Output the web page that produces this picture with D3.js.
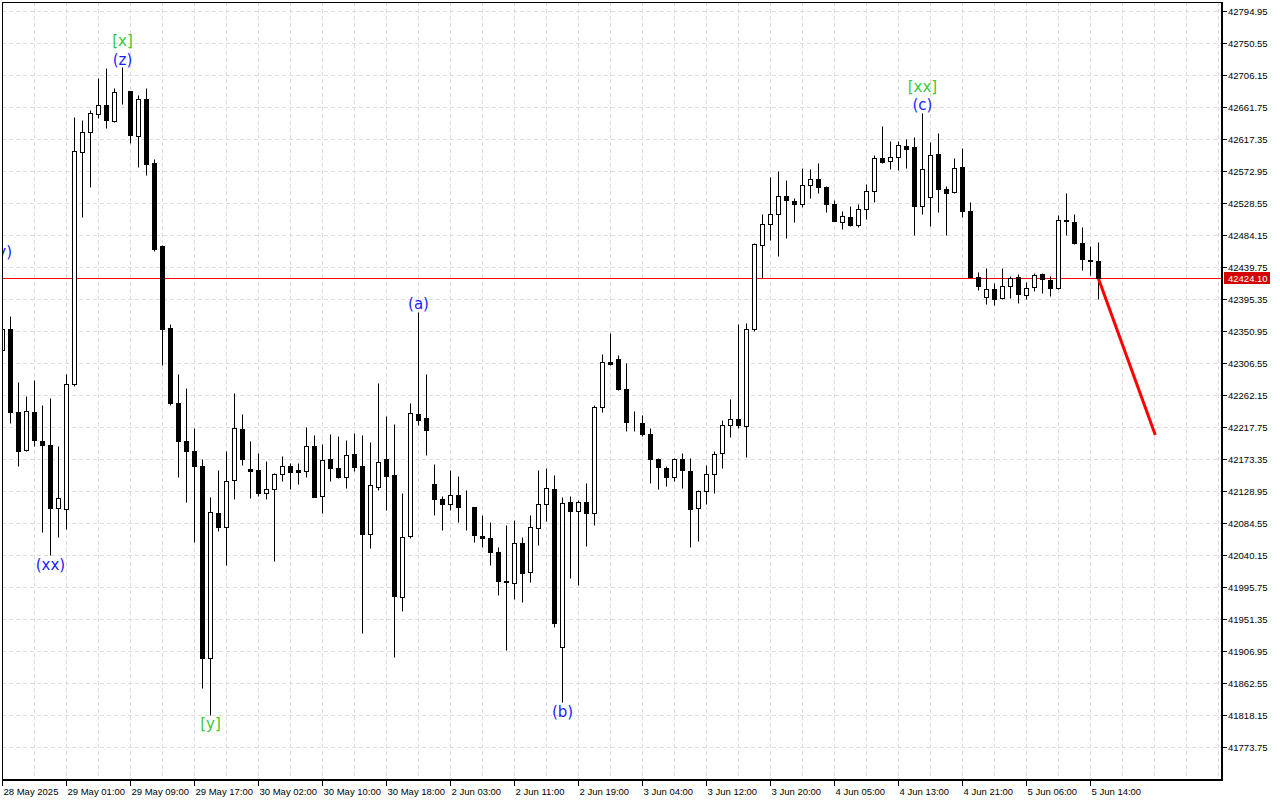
<!DOCTYPE html>
<html><head><meta charset="utf-8">
<script src="https://cdn.jsdelivr.net/npm/d3@7"></script>
<style>html,body{margin:0;padding:0;background:#fff;}svg{display:block;}</style>
</head><body>
<script>
const openP = [42323.9,42354.3,42237.9,42185.8,42237.9,42199.0,42192.1,42105.2,42103.3,42277.4,
42600.0,42626.4,42652.7,42665.2,42642.3,42684.6,42683.3,42622.2,42673.5,42583.4,
42468.2,42354.8,42250.4,42198.6,42185.1,42163.9,41897.5,42098.7,42079.3,42144.5,
42215.3,42158.8,42157.4,42126.5,42132.4,42152.8,42163.9,42157.4,42157.0,42191.7,
42122.3,42172.7,42160.2,42148.7,42180.6,42163.9,42069.6,42134.8,42172.7,42151.8,
41981.6,42066.2,42235.1,42230.9,42138.0,42118.5,42111.2,42123.7,42107.0,42107.0,
42067.2,42064.4,42044.6,42003.4,42001.6,42057.1,42016.3,42077.9,42111.2,42132.0,
41912.2,42113.0,42100.9,42114.0,42098.7,42245.8,42308.2,42312.4,42270.8,42225.0,
42223.6,42208.3,42173.6,42161.1,42148.7,42173.6,42157.0,42105.6,42129.2,42152.8,
42182.0,42220.8,42229.1,42218.9,42354.0,42470.6,42499.7,42513.6,42538.5,42531.6,
42527.4,42553.8,42561.2,42551.0,42527.4,42502.5,42509.8,42497.7,42520.5,42545.5,
42590.7,42587.1,42592.7,42608.3,42605.6,42524.1,42537.2,42597.2,42547.3,42544.1,
42578.8,42517.7,42426.2,42398.4,42409.5,42397.0,42413.7,42426.2,42401.2,42412.3,
42430.3,42422.0,42410.9,42504.3,42502.5,42473.3,42449.2,42448.4];
const highP = [42369.7,42371.1,42279.9,42260.1,42282.3,42247.6,42257.6,42190.7,42291.1,42647.2,
42643.6,42657.7,42701.3,42715.4,42688.8,42717.2,42684.0,42678.3,42688.8,42589.6,
42469.6,42360.0,42290.6,42271.2,42215.7,42173.6,42121.3,42157.4,42185.1,42265.6,
42235.1,42199.0,42181.0,42170.3,42154.6,42178.2,42167.5,42168.1,42217.1,42207.3,
42193.5,42208.7,42204.6,42200.4,42210.1,42206.4,42196.7,42279.1,42233.7,42222.6,
42126.5,42250.4,42377.6,42290.6,42167.1,42121.7,42157.4,42149.1,42131.0,42107.4,
42096.3,42086.2,42050.6,42082.1,42089.4,42064.8,42095.9,42157.4,42160.2,42151.8,
42120.9,42122.7,42115.8,42139.4,42247.6,42319.7,42348.5,42318.3,42305.9,42240.6,
42234.7,42215.7,42174.5,42164.3,42175.4,42182.0,42175.4,42130.6,42165.3,42183.8,
42226.8,42256.9,42360.0,42362.3,42473.7,42512.6,42565.3,42572.3,42559.8,42535.8,
42577.4,42576.4,42583.4,42552.0,42533.4,42516.8,42523.7,42527.4,42555.6,42595.8,
42635.7,42613.9,42614.3,42617.1,42620.4,42653.7,42613.5,42625.4,42552.8,42591.3,
42605.1,42530.2,42433.1,42437.7,42418.2,42438.6,42427.0,42430.3,42419.6,42432.1,
42432.1,42426.6,42512.2,42542.7,42513.6,42495.5,42469.2,42474.7];
const lowP = [42318.3,42223.0,42163.5,42183.8,42191.4,42071.8,42039.5,42065.0,42076.9,42275.3,
42509.1,42550.6,42645.8,42632.3,42641.6,42666.6,42611.9,42578.5,42567.4,42461.3,
42303.5,42247.6,42148.0,42113.7,42057.9,41855.3,41818.8,42073.2,42026.0,42117.6,
42165.3,42119.0,42121.7,42118.1,42031.5,42143.1,42132.0,42138.4,42148.1,42120.3,
42098.1,42142.5,42146.3,42133.4,42156.4,41931.6,42049.6,42131.0,42102.3,41898.3,
41962.2,42063.5,42220.2,42178.6,42096.3,42074.6,42102.3,42086.6,42075.5,42057.9,
42051.0,42026.0,41984.4,41908.1,41979.4,41975.2,42002.4,42054.7,42087.0,41940.5,
41835.9,42008.9,41999.2,42052.4,42081.5,42238.3,42304.0,42269.0,42211.9,42211.9,
42205.0,42139.8,42132.4,42135.6,42142.5,42132.8,42051.0,42059.3,42110.6,42125.9,
42161.1,42204.2,42216.1,42175.8,42350.3,42424.8,42477.9,42454.7,42480.3,42501.9,
42522.7,42535.2,42542.7,42516.3,42503.0,42492.8,42497.0,42495.0,42505.7,42530.2,
42583.8,42575.4,42575.0,42577.4,42483.5,42513.6,42496.4,42516.3,42483.9,42542.7,
42509.4,42425.0,42407.6,42388.7,42386.7,42394.7,42397.4,42389.5,42394.7,42406.2,
42403.4,42400.2,42409.5,42483.9,42472.0,42435.3,42428.4,42395.1];
const closeP = [42354.4,42237.9,42185.1,42239.3,42199.4,42192.6,42105.2,42119.5,42277.4,42600.1,
42626.4,42653.4,42665.2,42643.6,42682.6,42684.0,42623.0,42673.5,42582.0,42465.4,
42354.4,42251.7,42199.0,42185.1,42163.4,41897.0,42100.1,42079.3,42143.1,42216.6,
42173.6,42157.0,42126.5,42132.0,42152.8,42163.4,42155.6,42155.6,42191.7,42121.3,
42172.2,42160.6,42148.1,42179.2,42162.0,42069.0,42137.6,42169.5,42149.5,41983.0,
42065.4,42237.5,42227.2,42213.3,42117.2,42111.2,42123.7,42106.5,42106.6,42067.6,
42063.5,42044.0,42003.8,42002.6,42057.1,42015.5,42079.3,42111.2,42133.4,41946.1,
42112.6,42100.9,42114.0,42098.7,42245.8,42308.2,42304.9,42270.2,42224.4,42224.5,
42207.8,42173.1,42162.0,42148.1,42173.6,42157.8,42103.7,42129.2,42152.8,42180.6,
42220.2,42229.1,42220.2,42354.0,42471.0,42499.7,42513.6,42538.5,42533.0,42527.4,
42553.8,42562.1,42551.0,42527.4,42503.9,42510.8,42498.3,42520.5,42545.5,42590.7,
42585.7,42592.7,42609.3,42603.8,42524.1,42576.0,42595.4,42547.7,42542.7,42577.4,
42517.7,42425.6,42413.7,42409.5,42395.1,42413.7,42424.8,42402.6,42410.9,42428.9,
42423.4,42410.9,42505.2,42503.5,42472.8,42450.6,42447.8,42424.1];

const timeTickIdx = [0,8,16,24,32,40,48,56,64,72,80,88,96,104,112,120,128,136];
const timeTickLabels = ["28 May 2025","29 May 01:00","29 May 09:00","29 May 17:00","30 May 02:00",
"30 May 10:00","30 May 18:00","2 Jun 03:00","2 Jun 11:00","2 Jun 19:00","3 Jun 04:00",
"3 Jun 12:00","3 Jun 20:00","4 Jun 05:00","4 Jun 13:00","4 Jun 21:00","5 Jun 06:00","5 Jun 14:00"];
const priceTicks = [42794.95,42750.55,42706.15,42661.75,42617.35,42572.95,42528.55,42484.15,
42439.75,42395.35,42350.95,42306.55,42262.15,42217.75,42173.35,42128.95,42084.55,42040.15,
41995.75,41951.35,41906.95,41862.55,41818.15,41773.75];
const currentPrice = 42424.10;
const forecastIdx = [137, 144.1];
const forecastPrice = [42424.1, 42207.3];

// wave labels: text, candle index, anchor ("high"/"low"/"none"), stack level, colour
const waveText   = ["(z)","[x]","(xx)","[y]","(a)","(b)","(c)","[xx]","(y)"];
const waveIdx    = [15,15,6,26,52,70,115,115,-0.1];
const waveAnchor = ["high","high","low","low","high","low","high","high","none"];
const waveLevel  = [0,1,0,0,0,0,0,1,0];
const waveGreen  = [false,true,false,true,false,false,false,true,false];
const waveNoneY  = 42461.0;

const W = 1280, H = 800;
const plotL = 2, plotT = 2, plotR = 1221, plotB = 779;
const svg = d3.select("body").append("svg").attr("width", W).attr("height", H)
  .style("font-family", "'Liberation Sans', Arial, sans-serif");
svg.append("rect").attr("width", W).attr("height", H).attr("fill", "#fff");

const x = d3.scaleLinear().domain([0, 137]).range([2.5, 2.5 + 8 * 137]);
const y = d3.scaleLinear().domain([41773.75, 42794.95]).range([747.5, 11.5]);
const cx = i => Math.round(x(i) - 0.5) + 0.5;
const cy = p => Math.round(y(p) - 0.5) + 0.5;

svg.append("defs").append("clipPath").attr("id", "plot")
  .append("rect").attr("x", plotL + 1).attr("y", plotT + 1)
  .attr("width", plotR - plotL - 1).attr("height", plotB - plotT - 1);
const plot = svg.append("g").attr("clip-path", "url(#plot)");

// grid
const gridColor = "#dedede";
plot.append("g").selectAll("line").data(priceTicks).join("line")
  .attr("x1", plotL).attr("x2", plotR).attr("y1", d => cy(d)).attr("y2", d => cy(d))
  .attr("stroke", gridColor).attr("stroke-dasharray", "4,3");
const vIdx = d3.range(0, 153, 4);
plot.append("g").selectAll("line").data(vIdx).join("line")
  .attr("x1", d => cx(d)).attr("x2", d => cx(d)).attr("y1", plotT).attr("y2", plotB)
  .attr("stroke", gridColor).attr("stroke-dasharray", "4,3");

// current price line
const cpLineY = Math.round(y(currentPrice)) - 0.5;
plot.append("line").attr("x1", plotL).attr("x2", plotR)
  .attr("y1", cpLineY).attr("y2", cpLineY)
  .style("stroke", "#ff0000").style("stroke-width", "1px");

// candles
const idx = d3.range(openP.length);
const cg = plot.append("g");
cg.append("g").selectAll("line").data(idx).join("line")
  .attr("x1", i => cx(i)).attr("x2", i => cx(i))
  .attr("y1", i => cy(highP[i])).attr("y2", i => cy(lowP[i]))
  .attr("stroke", "#000").attr("stroke-width", 1);
cg.append("g").selectAll("rect").data(idx).join("rect")
  .attr("x", i => cx(i) - 2).attr("width", 4)
  .attr("y", i => Math.min(cy(openP[i]), cy(closeP[i])))
  .attr("height", i => Math.max(0, Math.abs(cy(openP[i]) - cy(closeP[i]))))
  .attr("fill", i => closeP[i] >= openP[i] ? "#fff" : "#000")
  .attr("stroke", "#000").attr("stroke-width", 1);

// forecast line
plot.append("line")
  .attr("x1", x(forecastIdx[0])).attr("y1", y(forecastPrice[0]))
  .attr("x2", x(forecastIdx[1])).attr("y2", y(forecastPrice[1]))
  .style("stroke", "#ff0000").style("stroke-width", "3px");

// wave labels
plot.append("g").selectAll("text").data(waveText.map((t, i) => i)).join("text")
  .attr("x", i => x(waveIdx[i]))
  .attr("y", i => {
    if (waveAnchor[i] === "high") return y(highP[waveIdx[i]]) - 3 - waveLevel[i] * 18.5;
    if (waveAnchor[i] === "low") return y(lowP[waveIdx[i]]) + 14;
    return y(waveNoneY) + 5;
  })
  .attr("text-anchor", "middle")
  .attr("font-family", "'DejaVu Sans', Verdana, sans-serif")
  .attr("font-size", 15)
  .attr("fill", i => waveGreen[i] ? "#3cc83c" : "#1c1cff")
  .text(i => waveText[i]);

// frame
svg.append("line").attr("x1", plotL + 0.5).attr("x2", plotL + 0.5).attr("y1", plotT).attr("y2", plotB + 1)
  .attr("stroke", "#000");
svg.append("line").attr("x1", plotL).attr("x2", plotR + 1).attr("y1", plotT + 0.5).attr("y2", plotT + 0.5)
  .attr("stroke", "#000");
svg.append("line").attr("x1", plotR + 1).attr("x2", plotR + 1).attr("y1", plotT).attr("y2", plotB + 2)
  .attr("stroke", "#000").attr("stroke-width", 2);
svg.append("line").attr("x1", plotL).attr("x2", plotR + 2).attr("y1", plotB + 1).attr("y2", plotB + 1)
  .attr("stroke", "#000").attr("stroke-width", 2);

// right price axis
const ax = svg.append("g");
ax.append("g").selectAll("line").data(priceTicks).join("line")
  .attr("x1", plotR + 2).attr("x2", plotR + 6)
  .attr("y1", d => cy(d)).attr("y2", d => cy(d)).attr("stroke", "#000");
ax.append("g").selectAll("text").data(priceTicks).join("text")
  .attr("x", plotR + 7).attr("y", d => cy(d) + 3.5)
  .attr("font-size", 9.5).attr("fill", "#000")
  .text(d => d.toFixed(2));
const cpy = Math.round(y(currentPrice));
ax.append("rect").attr("x", plotR + 3).attr("y", cpy - 7).attr("width", 46).attr("height", 12)
  .attr("fill", "#d40000");
ax.append("text").attr("x", plotR + 7).attr("y", cpy + 2.5)
  .attr("font-size", 9.5).attr("fill", "#fff").text(currentPrice.toFixed(2));

// bottom time axis
const bx = svg.append("g");
bx.append("g").selectAll("line").data(timeTickIdx).join("line")
  .attr("x1", i => cx(i)).attr("x2", i => cx(i))
  .attr("y1", plotB + 2).attr("y2", plotB + 7).attr("stroke", "#000");
bx.append("g").selectAll("text").data(timeTickLabels).join("text")
  .attr("x", (d, j) => cx(timeTickIdx[j]) + 1).attr("y", 795)
  .attr("font-size", 9.5).attr("fill", "#000")
  .text(d => d);
</script>
</body></html>
